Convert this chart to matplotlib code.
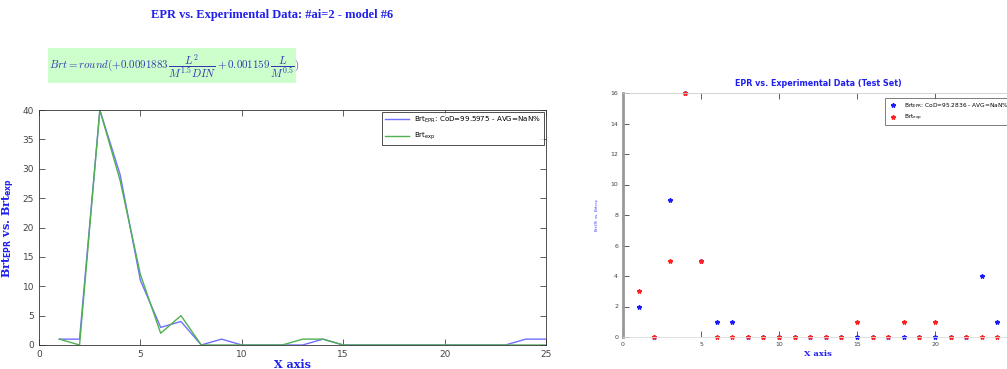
import matplotlib.pyplot as plt

# training set: brightness predicted by EPR model vs. measured
x_train = list(range(1, 26))
brt_epr = [1, 1, 40, 29, 11, 3, 4, 0, 1, 0, 0, 0, 0, 1, 0, 0, 0, 0, 0, 0, 0, 0, 0, 1, 1]
brt_exp = [1, 0, 40, 28, 12, 2, 5, 0, 0, 0, 0, 0, 1, 1, 0, 0, 0, 0, 0, 0, 0, 0, 0, 0, 0]

# test set
x_test = list(range(1, 26))
test_epr = [2, 0, 9, 16, 5, 1, 1, 0, 0, 0, 0, 0, 0, 0, 0, 0, 0, 0, 0, 0, 0, 0, 4, 1, 0]
test_exp = [3, 0, 5, 16, 5, 0, 0, 0, 0, 0, 0, 0, 0, 0, 1, 0, 0, 1, 0, 1, 0, 0, 0, 0, 0]

train_label = r'Brt$_{\rm EPR}$: CoD=99.5975 - AVG=NaN%'
test_label = r'Brt$_{\rm EPR}$: CoD=95.2836 - AVG=NaN%'
exp_label = r'Brt$_{\rm exp}$'

W, H = 1007, 369
fig = plt.figure(figsize=(W / 100, H / 100), dpi=100)
fig.patch.set_facecolor('white')


def box(l, t, r, b):
    return [l / W, 1 - b / H, (r - l) / W, (b - t) / H]


def matlab_ticks(ax, size):
    ax.tick_params(direction='in', top=True, right=True, labelsize=size,
                   colors='#444444', length=4, width=0.6)
    for s in ax.spines.values():
        s.set_linewidth(0.6)
        s.set_color('#333333')


fig.text(272 / W, 1 - 15 / H, 'EPR vs. Experimental Data: #ai=2 - model #6',
         ha='center', va='center', color='#2020ee', fontsize=9,
         fontweight='bold', family='Liberation Serif')

eq = (r'$Brt = round(+0.0091883\,\dfrac{L^2}{M^{1.5}DIN} + 0.001159\,'
      r'\dfrac{L}{M^{0.5}})$')
fig.patches.append(plt.Rectangle((48 / W, 1 - 83 / H), 248 / W, 35 / H,
                                 transform=fig.transFigure,
                                 facecolor='#ccffcc', edgecolor='none'))
fig.text(49 / W, 1 - 66 / H, eq, ha='left', va='center',
         color='#3535b0', fontsize=7.9, math_fontfamily='cm')

# left: line plot of the training set
ax1 = fig.add_axes(box(39, 110, 546, 345))
ax1.plot(x_train, brt_epr, color='#7070ff', lw=1.0, label=train_label)
ax1.plot(x_train, brt_exp, color='#50b050', lw=1.0, label=exp_label)
ax1.set_xlim(0, 25)
ax1.set_ylim(0, 40)
ax1.set_xticks([0, 5, 10, 15, 20, 25])
ax1.set_yticks(range(0, 41, 5))
matlab_ticks(ax1, 6.5)
ax1.set_xlabel('X axis', color='#2020ee', fontsize=8, fontweight='bold',
               family='DejaVu Serif', labelpad=0)
ax1.set_ylabel(r'Brt$_{\bf EPR}$ vs. Brt$_{\bf exp}$', color='#2020ee',
               fontsize=8, fontweight='bold', family='DejaVu Serif')
ax1.yaxis.set_label_coords(-0.043, 0.5)
leg1 = ax1.legend(loc='upper right', fontsize=5.1, frameon=True, fancybox=False,
                  edgecolor='#222222', borderaxespad=0.3, handlelength=3.4,
                  labelspacing=0.8)
leg1.get_frame().set_linewidth(0.7)

# right: scatter of the test set (runs past the figure edge)
ax2 = fig.add_axes(box(623, 93, 1013, 337))
ax2.plot(x_test, test_epr, ls='none', marker='*', ms=3.2, color='#1a1aff',
         label=test_label, clip_on=False)
ax2.plot(x_test, test_exp, ls='none', marker='*', ms=3.2, color='#ff2020',
         label=exp_label, clip_on=False)
ax2.set_xlim(0, 25)
ax2.set_ylim(0, 16)
ax2.set_xticks([0, 5, 10, 15, 20])
ax2.set_yticks(range(0, 17, 2))
matlab_ticks(ax2, 4.5)
ax2.spines['left'].set_linewidth(2)
ax2.spines['left'].set_color('#999999')
ax2.spines['top'].set_color('#cccccc')
ax2.spines['bottom'].set_color('#dddddd')
ax2.set_title('EPR vs. Experimental Data (Test Set)', color='#2020ee',
              fontsize=5.8, fontweight='bold', pad=5)
ax2.set_xlabel('X axis', color='#2020ee', fontsize=6, fontweight='bold',
               family='DejaVu Serif', labelpad=2)
ax2.set_ylabel(r'Brt$_{\rm EPR}$ vs. Brt$_{\rm exp}$', color='#4040ff',
               fontsize=3, labelpad=6)
leg2 = ax2.legend(loc='upper right', fontsize=4.2, frameon=True, fancybox=False,
                  edgecolor='#444444', borderaxespad=0.3, handlelength=2,
                  labelspacing=0.5, bbox_to_anchor=(1.0, 0.985))
leg2.get_frame().set_linewidth(0.6)

fig.savefig('out.png', dpi=100)
